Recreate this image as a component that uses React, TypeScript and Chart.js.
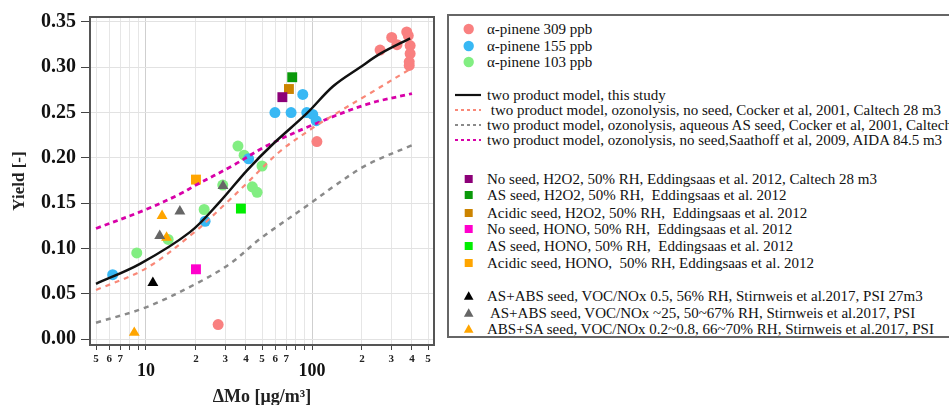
import React, { useEffect, useRef } from 'react';
import { Chart, registerables } from 'chart.js';
Chart.register(...registerables);

const FONT = "'Liberation Serif', 'Times New Roman', serif";

// ---- axes ----
const xTickValues = [5, 6, 7, 8, 9, 10, 20, 30, 40, 50, 60, 70, 80, 90, 100, 200, 300, 400, 500];
const xTickLabels = ['5', '6', '7', '', '', '10', '2', '3', '4', '5', '6', '7', '', '', '100', '2', '3', '4', '5'];
const xDecadeTicks = [10, 100];
const yTickValues = [0, 0.05, 0.1, 0.15, 0.2, 0.25, 0.3, 0.35];

// ---- this study (circles) ----
const p309X = [257, 302, 325, 372, 380, 390, 390, 385, 385, 107, 27.2];
const p309Y = [0.319, 0.333, 0.325, 0.339, 0.335, 0.324, 0.315, 0.306, 0.302, 0.218, 0.016];
const p155X = [6.3, 22.7, 41.5, 59.8, 74.8, 88, 93, 101, 106];
const p155Y = [0.071, 0.130, 0.199, 0.250, 0.250, 0.270, 0.250, 0.248, 0.241];
const p103X = [8.8, 13.6, 22.4, 29, 35.8, 39, 43.7, 46.7, 50];
const p103Y = [0.095, 0.110, 0.143, 0.170, 0.213, 0.203, 0.168, 0.162, 0.191];

// ---- Eddingsaas et al. 2012 (squares) ----
const noSeedH2O2X = [66.3];
const noSeedH2O2Y = [0.267];
const asSeedH2O2X = [76];
const asSeedH2O2Y = [0.289];
const acidicH2O2X = [72.6];
const acidicH2O2Y = [0.276];
const noSeedHONOX = [20];
const noSeedHONOY = [0.077];
const asSeedHONOX = [37.3];
const asSeedHONOY = [0.144];
const acidicHONOX = [20];
const acidicHONOY = [0.176];

// ---- Stirnweis et al. 2017 (triangles) ----
const stirnBlackX = [11.0];
const stirnBlackY = [0.062];
const stirnGrayX = [12.1, 16.0, 29.1];
const stirnGrayY = [0.114, 0.141, 0.169];
const stirnOrangeX = [8.5, 12.5, 13.3];
const stirnOrangeY = [0.007, 0.136, 0.112];

// ---- two product model curves ----
const modelThisX = [5, 9.2, 18.4, 28, 40.5, 58, 93, 134, 195, 258, 390];
const modelThisY = [0.061, 0.083, 0.118, 0.152, 0.186, 0.215, 0.249, 0.279, 0.300, 0.315, 0.332];
const cockerNoSeedX = [5, 10, 19, 30, 40, 64, 101, 134, 213, 390];
const cockerNoSeedY = [0.054, 0.078, 0.116, 0.149, 0.171, 0.207, 0.233, 0.247, 0.269, 0.298];
const cockerASX = [5, 10, 20, 32, 49, 100, 134, 213, 400];
const cockerASY = [0.018, 0.035, 0.061, 0.083, 0.111, 0.151, 0.168, 0.192, 0.214];
const saathoffX = [5, 10, 16, 20, 33, 53, 100, 213, 400];
const saathoffY = [0.122, 0.143, 0.160, 0.170, 0.191, 0.213, 0.236, 0.259, 0.271];

const pts = (xs: number[], ys: number[]) => xs.map((x, i) => ({ x, y: ys[i] }));

const C309 = '#F98080';
const C155 = '#38B8F4';
const C103 = '#82EE82';

const circleSet = (label: string, xs: number[], ys: number[], color: string) => ({
  label, data: pts(xs, ys), backgroundColor: color, borderColor: color, borderWidth: 0,
  pointStyle: 'circle', pointRadius: 5.5, showLine: false, order: 3,
});
const squareSet = (label: string, xs: number[], ys: number[], color: string) => ({
  label, data: pts(xs, ys), backgroundColor: color, borderColor: color, borderWidth: 0,
  pointStyle: 'rect', pointRadius: 7, showLine: false, order: 2,
});
const triSet = (label: string, xs: number[], ys: number[], color: string) => ({
  label, data: pts(xs, ys), backgroundColor: color, borderColor: color, borderWidth: 0,
  pointStyle: 'triangle', pointRadius: 6.3, showLine: false, order: 2,
});
const lineSet = (label: string, xs: number[], ys: number[], color: string, width: number, dash: number[]) => ({
  label, data: pts(xs, ys), borderColor: color, backgroundColor: color, borderWidth: width,
  borderDash: dash, pointRadius: 0, showLine: true, tension: 0.35, order: 1,
});

type LegendRow = { y: number; kind: string; color: string; text: string; dash?: string };
const legendRows: LegendRow[] = [
  { y: 27, kind: 'circle', color: C309, text: 'α-pinene 309 ppb' },
  { y: 43.5, kind: 'circle', color: C155, text: 'α-pinene 155 ppb' },
  { y: 60, kind: 'circle', color: C103, text: 'α-pinene 103 ppb' },
  { y: 93.3, kind: 'line', color: '#111111', text: 'two product model, this study' },
  { y: 108.3, kind: 'line', color: '#F98878', dash: '3 3', text: ' two product model, ozonolysis, no seed, Cocker et al, 2001, Caltech 28 m3' },
  { y: 123.3, kind: 'line', color: '#8A8A8A', dash: '3 3', text: 'two product model, ozonolysis, aqueous AS seed, Cocker et al, 2001, Caltech 28 m3' },
  { y: 138.3, kind: 'line', color: '#D800A8', dash: '3 3', text: 'two product model, ozonolysis, no seed,Saathoff et al, 2009, AIDA 84.5 m3' },
  { y: 176.7, kind: 'square', color: '#8C0078', text: 'No seed, H2O2, 50% RH, Eddingsaas et al. 2012, Caltech 28 m3' },
  { y: 193.3, kind: 'square', color: '#0A990A', text: 'AS seed, H2O2, 50% RH,  Eddingsaas et al. 2012' },
  { y: 210.5, kind: 'square', color: '#CC8400', text: 'Acidic seed, H2O2, 50% RH,  Eddingsaas et al. 2012' },
  { y: 227.3, kind: 'square', color: '#FF00CC', text: 'No seed, HONO, 50% RH,  Eddingsaas et al. 2012' },
  { y: 244, kind: 'square', color: '#00EE00', text: 'AS seed, HONO, 50% RH,  Eddingsaas et al. 2012' },
  { y: 260.7, kind: 'square', color: '#FFA500', text: 'Acidic seed, HONO,  50% RH, Eddingsaas et al. 2012' },
  { y: 294, kind: 'tri', color: '#000000', text: 'AS+ABS seed, VOC/NOx 0.5, 56% RH, Stirnweis et al.2017, PSI 27m3' },
  { y: 310.7, kind: 'tri', color: '#666666', text: ' AS+ABS seed, VOC/NOx ~25, 50~67% RH, Stirnweis et al.2017, PSI' },
  { y: 327, kind: 'tri', color: '#FFA500', text: 'ABS+SA seed, VOC/NOx 0.2~0.8, 66~70% RH, Stirnweis et al.2017, PSI' },
];

const LEG_LEFT = 447;
const LEG_TOP = 14;

function Marker({ row }: { row: LegendRow }) {
  const top = row.y - LEG_TOP - 8;
  const style: React.CSSProperties = { position: 'absolute', left: 0, top, width: 40, height: 16 };
  let shape: React.ReactNode = null;
  if (row.kind === 'circle') shape = <circle cx={19.7} cy={8} r={5.2} fill={row.color} />;
  else if (row.kind === 'square') shape = <rect x={15.7} y={4} width={8} height={8} fill={row.color} />;
  else if (row.kind === 'tri') shape = <polygon points="19.7,3.2 24.5,11.8 14.9,11.8" fill={row.color} />;
  else shape = <line x1={6} y1={8} x2={32} y2={8} stroke={row.color} strokeWidth={row.dash ? 1.8 : 2.2} strokeDasharray={row.dash} />;
  return <svg style={style} width={40} height={16}>{shape}</svg>;
}

export default function App() {
  const ref = useRef<HTMLCanvasElement | null>(null);

  useEffect(() => {
    if (!ref.current) return;
    const framePlugin = {
      id: 'frame',
      afterDraw(chart: any) {
        const { ctx, chartArea: a } = chart;
        ctx.save();
        ctx.strokeStyle = '#555555';
        ctx.lineWidth = 2;
        ctx.strokeRect(a.left, a.top, a.right - a.left, a.bottom - a.top);
        ctx.restore();
      },
    };
    const isDecade = (v: number) => xDecadeTicks.includes(v);
    const chart = new Chart(ref.current, {
      type: 'scatter',
      data: {
        datasets: [
          lineSet('two product model, this study', modelThisX, modelThisY, '#111111', 2.5, []),
          lineSet('Cocker no seed', cockerNoSeedX, cockerNoSeedY, '#F98878', 2.2, [5, 5]),
          lineSet('Cocker AS seed', cockerASX, cockerASY, '#8A8A8A', 2.5, [5, 5]),
          lineSet('Saathoff', saathoffX, saathoffY, '#D800A8', 2.8, [5, 4]),
          triSet('AS+ABS 0.5', stirnBlackX, stirnBlackY, '#000000'),
          triSet('AS+ABS ~25', stirnGrayX, stirnGrayY, '#666666'),
          triSet('ABS+SA', stirnOrangeX, stirnOrangeY, '#FFA500'),
          squareSet('No seed H2O2', noSeedH2O2X, noSeedH2O2Y, '#8C0078'),
          squareSet('AS seed H2O2', asSeedH2O2X, asSeedH2O2Y, '#0A990A'),
          squareSet('Acidic H2O2', acidicH2O2X, acidicH2O2Y, '#CC8400'),
          squareSet('No seed HONO', noSeedHONOX, noSeedHONOY, '#FF00CC'),
          squareSet('AS seed HONO', asSeedHONOX, asSeedHONOY, '#00EE00'),
          squareSet('Acidic HONO', acidicHONOX, acidicHONOY, '#FFA500'),
          circleSet('α-pinene 309 ppb', p309X, p309Y, C309),
          circleSet('α-pinene 155 ppb', p155X, p155Y, C155),
          circleSet('α-pinene 103 ppb', p103X, p103Y, C103),
        ] as any,
      },
      options: {
        animation: false,
        responsive: false,
        events: [],
        layout: { padding: { left: 0, right: 13, top: 14, bottom: 0 } },
        plugins: { legend: { display: false }, tooltip: { enabled: false } },
        scales: {
          x: {
            type: 'logarithmic',
            position: 'bottom',
            min: 4.6,
            max: 543,
            afterBuildTicks: (s: any) => { s.ticks = xTickValues.map((v) => ({ value: v })); },
            afterFit: (s: any) => { s.height = 60; },
            ticks: {
              autoSkip: false,
              maxRotation: 0,
              padding: 3,
              color: (c: any) => (c.tick && isDecade(c.tick.value) ? '#111111' : '#222222'),
              font: (c: any) =>
                c.tick && isDecade(c.tick.value)
                  ? { family: FONT, size: 18, weight: 'bold', lineHeight: 2.05 }
                  : { family: FONT, size: 11, weight: 'bold', lineHeight: 1.2 },
              callback: (v: any) => {
                const i = xTickValues.indexOf(Number(v));
                return i >= 0 ? xTickLabels[i] : '';
              },
            },
            grid: {
              color: (c: any) => (c.tick && isDecade(c.tick.value) ? '#CFCFCF' : '#E6E6E6'),
              tickColor: '#444444',
              tickLength: 5,
              lineWidth: 1,
            },
            border: { display: false },
            title: {
              display: true,
              text: 'ΔMo [μg/m³]',
              color: '#222222',
              font: { family: FONT, size: 18, weight: 'bold', lineHeight: 0.8 },
              padding: { top: 0, bottom: 0 },
            },
          },
          y: {
            type: 'linear',
            min: -0.0066,
            max: 0.3555,
            afterBuildTicks: (s: any) => { s.ticks = yTickValues.map((v) => ({ value: v })); },
            afterFit: (s: any) => { s.width = 90; },
            ticks: {
              padding: 5,
              color: '#111111',
              font: { family: FONT, size: 20, weight: 'bold' },
              callback: (v: any) => Number(v).toFixed(2),
            },
            grid: { color: '#E2E2E2', tickColor: '#444444', tickLength: 9, lineWidth: 1 },
            border: { display: false },
            title: {
              display: true,
              text: 'Yield [-]',
              color: '#222222',
              font: { family: FONT, size: 17, weight: 'bold' },
              padding: { top: 9, bottom: 0 },
            },
          },
        },
      } as any,
      plugins: [framePlugin],
    });
    return () => chart.destroy();
  }, []);

  return (
    <div style={{ position: 'absolute', left: 0, top: 0, width: 949, height: 405, overflow: 'hidden', background: '#ffffff' }}>
      <canvas ref={ref} width={447} height={405} style={{ position: 'absolute', left: 0, top: 0, display: 'block' }} />
      <div
        style={{
          position: 'absolute', left: LEG_LEFT, top: LEG_TOP, width: 560, height: 324,
          border: '2px solid #666666', boxSizing: 'border-box', fontFamily: FONT, fontSize: 15, color: '#111111',
        }}
      >
        {legendRows.map((r, i) => (
          <React.Fragment key={i}>
            <Marker row={r} />
            <div style={{ position: 'absolute', left: 38, top: r.y - LEG_TOP - 10, height: 20, lineHeight: '20px', whiteSpace: 'pre' }}>
              {r.text}
            </div>
          </React.Fragment>
        ))}
      </div>
    </div>
  );
}
